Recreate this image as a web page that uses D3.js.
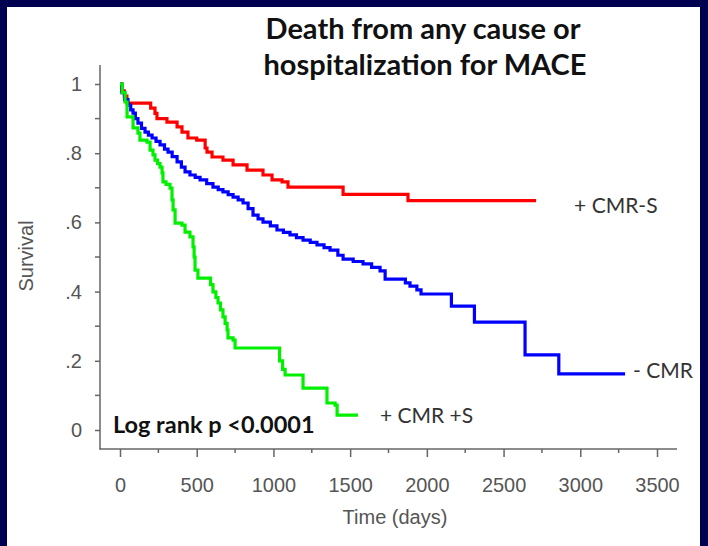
<html>
<head>
<script src="https://cdnjs.cloudflare.com/ajax/libs/d3/7.8.5/d3.min.js"></script>
<style>
  body { margin: 0; background: #000050; }
  svg { display: block; }
</style>
</head>
<body>
<svg id="chart"></svg>
<script>
    var width = 708,
        height = 546;

    // Kaplan-Meier steps: time (days) where survival drops, and the new survival value
    var redTimes = [0, 12, 28, 45, 200, 228, 241, 306, 372, 404, 443, 500, 555, 567, 600, 671, 737, 828, 932, 991, 1056, 1095, 1454, 1877, 2712];
    var redSurv  = [1, 0.98, 0.965, 0.945, 0.93, 0.915, 0.9, 0.89, 0.876, 0.861, 0.844, 0.838, 0.815, 0.803, 0.789, 0.78, 0.766, 0.751, 0.737, 0.723, 0.717, 0.702, 0.681, 0.663, 0.663];

    var blueTimes = [0, 13, 30, 52, 70, 85, 100, 117, 140, 163, 185, 209, 235, 261, 290, 313, 340, 372, 400, 424, 456, 490, 522, 565, 606, 640, 671, 705, 737, 770, 802, 835, 867, 900, 932, 980, 1023, 1065, 1108, 1150, 1193, 1240, 1284, 1330, 1369, 1420, 1454, 1520, 1584, 1640, 1695, 1728, 1860, 1890, 1935, 1962, 2160, 2310, 2640, 2860, 3292];
    var blueSurv  = [1, 0.975, 0.955, 0.939, 0.925, 0.916, 0.9, 0.887, 0.872, 0.861, 0.852, 0.844, 0.834, 0.824, 0.812, 0.803, 0.79, 0.775, 0.76, 0.746, 0.737, 0.73, 0.723, 0.712, 0.702, 0.695, 0.688, 0.68, 0.673, 0.665, 0.656, 0.64, 0.621, 0.61, 0.601, 0.59, 0.578, 0.571, 0.564, 0.556, 0.549, 0.542, 0.535, 0.527, 0.52, 0.505, 0.494, 0.487, 0.48, 0.47, 0.46, 0.436, 0.425, 0.416, 0.405, 0.393, 0.358, 0.312, 0.217, 0.162, 0.162];

    var greenTimes = [0, 15, 33, 46, 85, 117, 130, 176, 196, 215, 228, 245, 261, 274, 280, 300, 326, 339, 346, 359, 404, 424, 456, 476, 483, 489, 508, 590, 606, 625, 639, 655, 671, 685, 698, 704, 737, 750, 1040, 1060, 1076, 1193, 1349, 1402, 1415, 1551];
    var greenSurv  = [1, 0.975, 0.948, 0.905, 0.873, 0.858, 0.838, 0.832, 0.809, 0.795, 0.78, 0.77, 0.76, 0.743, 0.717, 0.71, 0.699, 0.665, 0.636, 0.598, 0.592, 0.572, 0.558, 0.529, 0.5, 0.462, 0.439, 0.42, 0.399, 0.383, 0.367, 0.347, 0.327, 0.308, 0.289, 0.266, 0.26, 0.237, 0.2, 0.175, 0.159, 0.121, 0.078, 0.072, 0.043, 0.043];

    var seriesNames = ["+ CMR-S", "- CMR", "+ CMR +S"];
    var seriesColors = ["#ff0000", "#0000ff", "#00f000"];

    var xTicks = [0, 500, 1000, 1500, 2000, 2500, 3000, 3500];
    var xMinor = [250, 750, 1250, 1750, 2250, 2750, 3250];
    var yTicks = [0, 0.2, 0.4, 0.6, 0.8, 1];
    var yMinor = [0.1, 0.3, 0.5, 0.7, 0.9];

    var series = [
        {name: seriesNames[0], color: seriesColors[0], values: d3.zip(redTimes, redSurv), dx: 38, dy: 4},
        {name: seriesNames[1], color: seriesColors[1], values: d3.zip(blueTimes, blueSurv), dx: 8, dy: -4},
        {name: seriesNames[2], color: seriesColors[2], values: d3.zip(greenTimes, greenSurv), dx: 22, dy: -1}
    ];

    var svg = d3.select("#chart")
        .attr("width", width)
        .attr("height", height);

    // white panel inside the navy frame
    svg.append("rect")
        .attr("x", 7).attr("y", 7)
        .attr("width", 693).attr("height", 539)
        .attr("fill", "#ffffff");

    var x = d3.scaleLinear().domain([0, 3500]).range([120, 657]);
    var y = d3.scaleLinear().domain([0, 1]).range([430, 84]);

    var axisColor = "#666666",
        labelColor = "#555555";

    // axis frame lines (L shape)
    svg.append("line")
        .attr("x1", 100).attr("x2", 100).attr("y1", 65).attr("y2", 449.5)
        .attr("stroke", axisColor).attr("stroke-width", 1.5);
    svg.append("line")
        .attr("x1", 99.5).attr("x2", 677).attr("y1", 449).attr("y2", 449)
        .attr("stroke", axisColor).attr("stroke-width", 1.5);

    // x axis
    var xAxis = svg.append("g")
        .attr("transform", "translate(0,449)")
        .call(d3.axisBottom(x).tickValues(xTicks).tickSize(8).tickPadding(20).tickFormat(d3.format("d")));
    xAxis.select(".domain").remove();
    xAxis.selectAll(".tick line").attr("stroke", axisColor).attr("stroke-width", 1.5);
    xAxis.selectAll(".tick text")
        .attr("fill", labelColor)
        .style("font-family", "'Liberation Sans', Arial, sans-serif")
        .style("font-size", "21px")
        .attr("transform", "scale(0.95,1)")
        .attr("x", function(d) { return 0; });

    svg.append("g")
        .selectAll("line")
        .data(xMinor)
        .enter().append("line")
        .attr("x1", function(d) { return x(d); })
        .attr("x2", function(d) { return x(d); })
        .attr("y1", 449).attr("y2", 453)
        .attr("stroke", axisColor).attr("stroke-width", 1.5);

    // y axis
    var yAxis = svg.append("g")
        .attr("transform", "translate(100,0)")
        .call(d3.axisLeft(y).tickValues(yTicks).tickSize(5).tickPadding(13)
            .tickFormat(function(d) {
                if (d === 0) return "0";
                if (d === 1) return "1";
                return d3.format(".1f")(d).replace("0.", ".");
            }));
    yAxis.select(".domain").remove();
    yAxis.selectAll(".tick line").attr("stroke", axisColor).attr("stroke-width", 1.5);
    yAxis.selectAll(".tick text")
        .attr("fill", labelColor)
        .style("font-family", "'Liberation Sans', Arial, sans-serif")
        .style("font-size", "20px");

    svg.append("g")
        .selectAll("line")
        .data(yMinor)
        .enter().append("line")
        .attr("x1", 95).attr("x2", 100)
        .attr("y1", function(d) { return y(d); })
        .attr("y2", function(d) { return y(d); })
        .attr("stroke", axisColor).attr("stroke-width", 1.5);

    // axis titles
    svg.append("text")
        .attr("x", 395).attr("y", 524)
        .attr("text-anchor", "middle")
        .attr("fill", labelColor)
        .style("font-family", "'Liberation Sans', Arial, sans-serif")
        .style("font-size", "20px")
        .text("Time (days)");

    svg.append("text")
        .attr("transform", "translate(33,256) rotate(-90)")
        .attr("text-anchor", "middle")
        .attr("fill", labelColor)
        .style("font-family", "'Liberation Sans', Arial, sans-serif")
        .style("font-size", "20px")
        .text("Survival");

    // survival curves
    var line = d3.line()
        .curve(d3.curveStepAfter)
        .x(function(d) { return x(d[0]); })
        .y(function(d) { return y(d[1]); });

    svg.append("g")
        .selectAll("path")
        .data(series)
        .enter().append("path")
        .attr("d", function(d) { return line(d.values); })
        .attr("fill", "none")
        .attr("stroke", function(d) { return d.color; })
        .attr("stroke-width", 3.2)
        .attr("stroke-linejoin", "miter");

    // curve labels
    svg.append("g")
        .selectAll("text")
        .data(series)
        .enter().append("text")
        .attr("x", function(d) { return x(d.values[d.values.length - 1][0]) + d.dx; })
        .attr("y", function(d) { return y(d.values[d.values.length - 1][1]) + d.dy; })
        .attr("dominant-baseline", "central")
        .attr("fill", "#333333")
        .style("font-family", "Lato, 'Open Sans', sans-serif")
        .style("font-size", "21px")
        .text(function(d) { return d.name; });

    // title
    var title = svg.append("text")
        .attr("text-anchor", "middle")
        .attr("fill", "#111111")
        .style("font-family", "Lato, 'Open Sans', sans-serif")
        .style("font-weight", "bold")
        .style("font-size", "29px");
    title.append("tspan").attr("x", 423).attr("y", 39).text("Death from any cause or");
    title.append("tspan").attr("x", 425).attr("y", 75).text("hospitalization for MACE");

    svg.append("text")
        .attr("x", 113).attr("y", 433)
        .attr("fill", "#111111")
        .style("font-family", "Lato, 'Open Sans', sans-serif")
        .style("font-weight", "bold")
        .style("font-size", "23.5px")
        .text("Log rank p <0.0001");
</script>
</body>
</html>
